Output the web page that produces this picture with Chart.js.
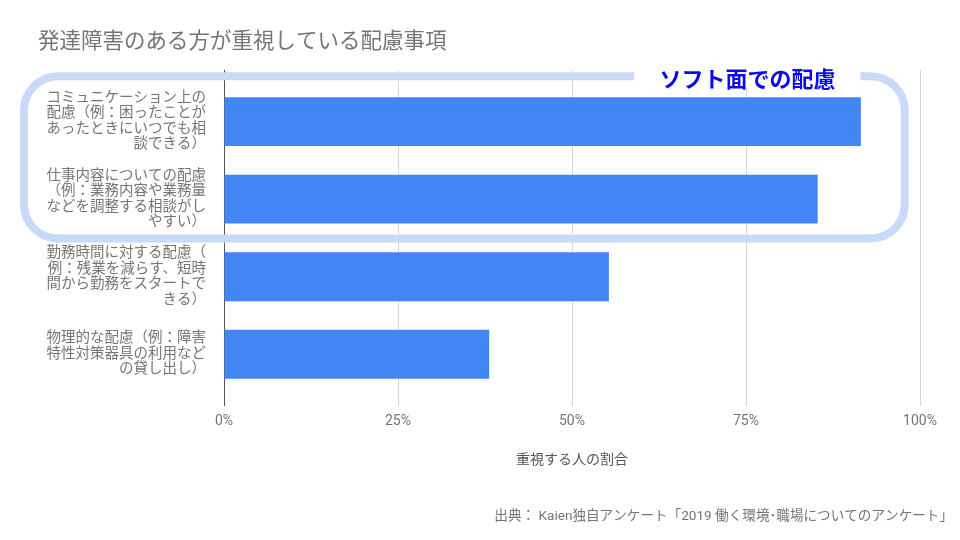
<!DOCTYPE html>
<html lang="ja">
<head>
<meta charset="utf-8">
<title>発達障害のある方が重視している配慮事項</title>
<script src="https://cdn.jsdelivr.net/npm/chart.js@4.4.1/dist/chart.umd.min.js"></script>
<style>
  html, body { margin: 0; padding: 0; background: #fff; }
  #wrap { width: 960px; height: 540px; }
</style>
</head>
<body>
<div id="wrap"><canvas id="chart"></canvas></div>
<script>
// chart data
const categories = [
    ['コミュニケーション上の', '配慮（例：困ったことが', 'あったときにいつでも相', '談できる）'],
    ['仕事内容についての配慮', '（例：業務内容や業務量', 'などを調整する相談がし', 'やすい）'],
    ['勤務時間に対する配慮（', '例：残業を減らす、短時', '間から勤務をスタートで', 'きる）'],
    ['物理的な配慮（例：障害', '特性対策器具の利用など', 'の貸し出し）']
];
const shares = [0.915, 0.853, 0.553, 0.381];
const tickValues = [0, 0.25, 0.5, 0.75, 1];

const chartTitle = '発達障害のある方が重視している配慮事項';
const axisTitle = '重視する人の割合';
const sourceNote = '出典： Kaien独自アンケート「2019 働く環境･職場についてのアンケート」';
const calloutText = 'ソフト面での配慮';
const calloutRows = 2; // first two categories are inside the box

const GRID = '#d6d6d6';
const AXIS = '#555555';
const TEXT = '#757575';

Chart.defaults.font.family = "Roboto, 'Noto Sans CJK JP', sans-serif";

// rounded box around the "soft" items, drawn behind the bars
const calloutBox = {
    id: 'calloutBox',
    beforeDatasetsDraw(chart) {
        const {ctx, chartArea, scales} = chart;
        const left = 24;
        const right = scales.x.getPixelForValue(0.978);
        const top = chartArea.top - 6.5;
        const bottom = scales.y.getPixelForValue(calloutRows - 0.5) + 0.5;
        const r = 34;

        ctx.save();
        ctx.strokeStyle = '#c9daf8';
        ctx.lineWidth = 8;
        ctx.beginPath();
        ctx.roundRect(left, top, right - left, bottom - top, r);
        ctx.stroke();

        // label sits in a gap of the top edge
        ctx.font = "bold 22px 'Noto Sans CJK JP', sans-serif";
        const tx = scales.x.getPixelForValue(0.752);
        const tw = ctx.measureText(calloutText).width;
        ctx.fillStyle = '#ffffff';
        ctx.fillRect(tx - tw / 2 - 25, top - 12, tw + 50, 24);
        ctx.fillStyle = '#0a0aef';
        ctx.textAlign = 'center';
        ctx.textBaseline = 'middle';
        ctx.fillText(calloutText, tx, top + 2);
        ctx.restore();
    }
};

new Chart(document.getElementById('chart'), {
    type: 'bar',
    data: {
        labels: categories,
        datasets: [{
            data: shares,
            backgroundColor: '#4285f4',
            barPercentage: 0.63,
            categoryPercentage: 1,
            xAxisID: 'x'
        }]
    },
    options: {
        indexAxis: 'y',
        responsive: true,
        maintainAspectRatio: false,
        animation: false,
        layout: {
            padding: { left: 38, right: 7, top: 0, bottom: 15 }
        },
        plugins: {
            legend: { display: false },
            tooltip: { enabled: false },
            title: {
                display: true,
                text: chartTitle,
                align: 'start',
                color: TEXT,
                font: { size: 21.5, weight: 'normal' },
                padding: { top: 30, bottom: 14 }
            },
            subtitle: {
                display: true,
                position: 'bottom',
                align: 'end',
                text: sourceNote,
                color: TEXT,
                font: { size: 13.6 },
                padding: { top: 40, bottom: 0 }
            }
        },
        scales: {
            x: {
                type: 'linear',
                position: 'bottom',
                min: 0,
                max: 1,
                afterBuildTicks: (scale) => { scale.ticks = tickValues.map(v => ({ value: v })); },
                ticks: {
                    color: TEXT,
                    font: { size: 14 },
                    padding: 7,
                    callback: (v) => Math.round(v * 100) + '%'
                },
                grid: {
                    color: (c) => c.tick && c.tick.value === 0 ? AXIS : GRID,
                    tickLength: 13
                },
                border: { display: false },
                title: {
                    display: true,
                    text: axisTitle,
                    color: '#555555',
                    font: { size: 14 },
                    padding: { top: 15, bottom: 0 }
                }
            },
            xTop: {
                type: 'linear',
                axis: 'x',
                position: 'top',
                min: 0,
                max: 1,
                afterBuildTicks: (scale) => { scale.ticks = tickValues.map(v => ({ value: v })); },
                ticks: { display: false },
                grid: {
                    drawOnChartArea: false,
                    color: (c) => c.tick && c.tick.value === 0 ? AXIS : GRID,
                    tickLength: 13
                },
                border: { display: false }
            },
            y: {
                type: 'category',
                position: 'left',
                afterFit: (scale) => { scale.width = 186; },
                ticks: {
                    color: TEXT,
                    font: { size: 14.5, lineHeight: 1.07 },
                    padding: 10
                },
                grid: { display: false },
                border: { display: false }
            },
            yRight: {
                type: 'linear',
                axis: 'y',
                position: 'right',
                afterFit: (scale) => { scale.width = 33; },
                ticks: { display: false },
                grid: { display: false },
                border: { display: false }
            }
        }
    },
    plugins: [calloutBox]
});
</script>
</body>
</html>
